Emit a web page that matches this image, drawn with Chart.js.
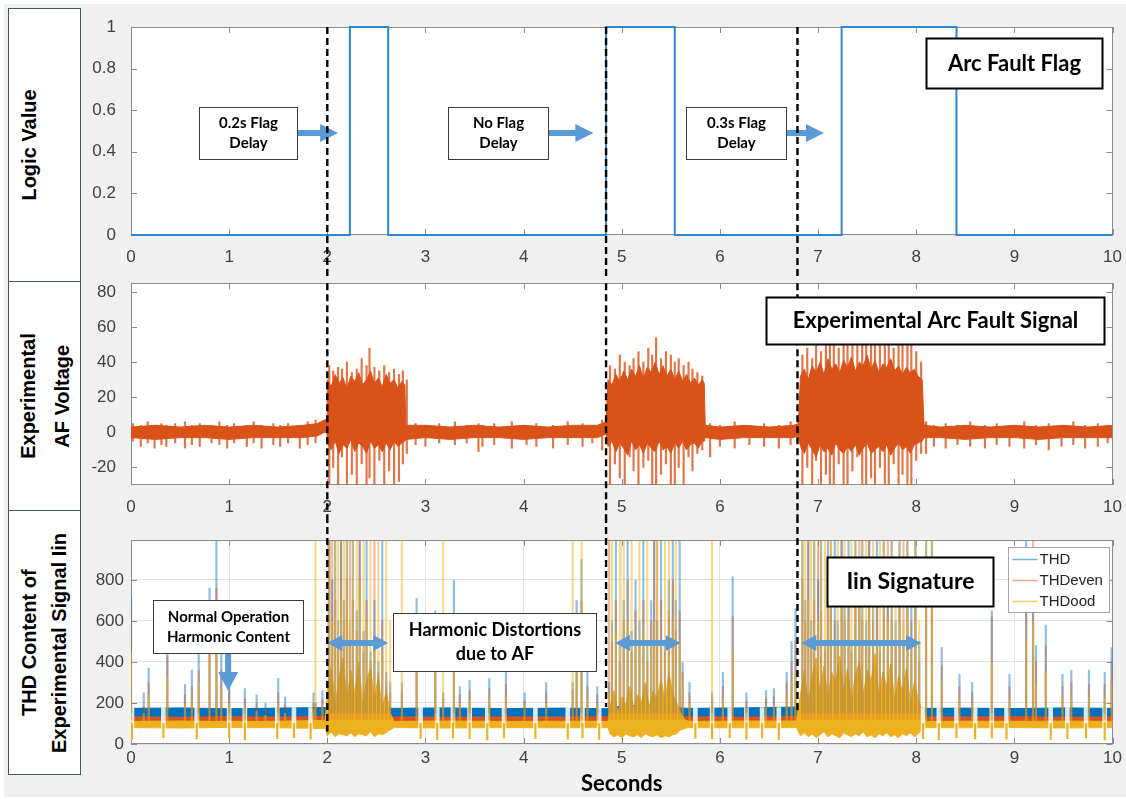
<!DOCTYPE html>
<html>
<head>
<meta charset="utf-8">
<title>Arc fault flag, AF voltage and THD of Iin</title>
<script src="https://cdn.jsdelivr.net/npm/chart.js@4.4.1/dist/chart.umd.min.js"></script>
<style>
  html, body { margin: 0; padding: 0; background: #fff; }
  body { position: relative; width: 1126px; height: 799px; overflow: hidden; }
  #sheet { position: absolute; left: 4px; top: 4px; right: 0; bottom: 2px; background: #f0f0f0; }
  .lab { position: absolute; left: 8px; width: 73px; box-sizing: border-box; border: 1px solid #44546a; background: #fff; }
  .lab div { position: absolute; top: 50%; writing-mode: vertical-rl; transform: translateY(-50%) rotate(180deg);
             font: bold 20px "Liberation Sans", Arial, sans-serif; text-align: center; color: #000; white-space: nowrap; }
  canvas { position: absolute; left: 81px; }
</style>
</head>
<body>
<div id="sheet"></div>
<div class="lab" style="top:8px;height:274px"><div style="left:7px;line-height:26px">Logic Value</div></div>
<div class="lab" style="top:281px;height:230px"><div style="left:2px;line-height:34px">Experimental<br>AF Voltage</div></div>
<div class="lab" style="top:510px;height:265px"><div style="left:5px;line-height:30px">THD Content of<br>Experimental Signal Iin</div></div>
<canvas id="flag" width="1045" height="268" style="top:8px"></canvas>
<canvas id="volt" width="1045" height="250" style="top:266px"></canvas>
<canvas id="thd" width="1045" height="281" style="top:516px"></canvas>
<script>
// tick labels
const secondTicks = [0, 1, 2, 3, 4, 5, 6, 7, 8, 9, 10];
const flagTicks = [0, 0.2, 0.4, 0.6, 0.8, 1];
const voltTicks = [-20, 0, 20, 40, 60, 80];
const thdTicks = [0, 200, 400, 600, 800];

// arc fault flag (logic value), step changes
const flagTime  = [0, 2.23, 2.62, 4.84, 5.54, 7.24, 8.41, 10];
const flagValue = [0, 1, 0, 1, 0, 1, 0, 0];

// arc fault onsets (dashed markers) and where the marker stops in the THD panel
const faultOnset = [2.0, 4.84, 6.79];
const onsetEnd = [60, 180, 165];

// AF voltage: dense core band
const voltBandTime = [0, 0.25, 0.5, 0.75, 1.0, 1.25, 1.5, 1.75, 1.9, 1.97,
  2.0, 2.0, 2.04, 2.08, 2.12, 2.16, 2.2, 2.24, 2.28, 2.32, 2.36, 2.4, 2.44, 2.48, 2.52, 2.56, 2.6, 2.64, 2.68, 2.72, 2.76, 2.79,
  2.8, 3.0, 3.25, 3.5, 3.75, 4.0, 4.25, 4.5, 4.75, 4.84,
  4.86, 4.9, 4.94, 4.98, 5.02, 5.06, 5.1, 5.14, 5.18, 5.22, 5.26, 5.3, 5.34, 5.38, 5.42, 5.46, 5.5, 5.54, 5.58, 5.62, 5.66, 5.7, 5.74, 5.78, 5.82, 5.84,
  5.85, 6.0, 6.25, 6.5, 6.75, 6.8,
  6.82, 6.86, 6.9, 6.94, 6.98, 7.02, 7.06, 7.1, 7.14, 7.18, 7.22, 7.26, 7.3, 7.34, 7.38, 7.42,
  7.46, 7.5, 7.54, 7.58, 7.62, 7.66, 7.7, 7.74, 7.78, 7.82, 7.86, 7.9, 7.94, 7.98, 8.02, 8.06,
  8.08, 8.25, 8.5, 8.75, 9.0, 9.25, 9.5, 9.75, 10];
const voltBandHigh = [3, 4, 3, 4, 3, 4, 3, 4, 5, 7,
  8, 30, 26, 33, 28, 31, 25, 32, 29, 34, 27, 30, 35, 28, 31, 26, 33, 28, 30, 25, 29, 27,
  4, 4, 3, 4, 3, 4, 3, 4, 4, 6,
  30, 27, 33, 29, 35, 30, 36, 32, 38, 31, 37, 34, 40, 33, 38, 32, 36, 30, 35, 29, 33, 28, 31, 27, 30, 28,
  4, 3, 4, 3, 4, 5,
  32, 36, 30, 38, 34, 40, 33, 42, 36, 39, 34, 41, 37, 43, 35, 40,
  38, 44, 36, 41, 34, 39, 37, 42, 35, 38, 33, 37, 34, 36, 32, 30,
  4, 3, 4, 3, 4, 3, 4, 3, 4];
const voltBandLow = [-3, -4, -3, -3, -4, -3, -3, -3, -2, 0,
  0, -6, -10, -5, -12, -7, -9, -4, -11, -6, -8, -12, -5, -9, -7, -11, -6, -10, -5, -8, -6, -5,
  -4, -3, -4, -3, -3, -4, -3, -3, -3, -1,
  -8, -5, -11, -6, -9, -13, -5, -10, -7, -12, -6, -9, -11, -5, -10, -8, -12, -6, -9, -5, -10, -7, -6, -9, -5, -5,
  -3, -4, -3, -3, -3, -2,
  -8, -12, -6, -10, -14, -7, -11, -9, -13, -6, -10, -12, -8, -11, -7, -13,
  -9, -6, -12, -10, -8, -11, -7, -13, -9, -6, -10, -8, -12, -7, -6, -5,
  -3, -3, -4, -3, -3, -4, -3, -3, -3];

// AF voltage: individual excursions beyond the core band
const voltSpikeTime = [0.02, 0.1, 0.17, 0.24, 0.31, 0.36, 0.45, 0.55, 0.62, 0.7, 0.82, 0.9, 0.98, 1.05, 1.18, 1.25, 1.33, 1.45, 1.52, 1.6, 1.72, 1.8, 1.88,
  2.02, 2.06, 2.11, 2.15, 2.2, 2.25, 2.3, 2.35, 2.4, 2.43, 2.48, 2.53, 2.58, 2.63, 2.68, 2.73, 2.77, 2.81,
  2.9, 3.0, 3.14, 3.3, 3.42, 3.54, 3.58, 3.7, 3.88, 4.03, 4.13, 4.3, 4.45, 4.6, 4.7, 4.8,
  4.88, 4.93, 4.98, 5.03, 5.08, 5.12, 5.17, 5.22, 5.27, 5.31, 5.35, 5.4, 5.45, 5.5, 5.54, 5.58, 5.63, 5.68, 5.72, 5.77, 5.82,
  5.9, 6.0, 6.15, 6.3, 6.45, 6.6, 6.72,
  6.84, 6.89, 6.94, 6.98, 7.03, 7.08, 7.12, 7.16, 7.21, 7.26, 7.3, 7.35, 7.4, 7.45, 7.49, 7.54, 7.58, 7.63, 7.68, 7.72, 7.77, 7.82, 7.86, 7.91, 7.95, 8.0, 8.05,
  8.1, 8.18, 8.3, 8.42, 8.55, 8.7, 8.82, 8.95, 9.1, 9.22, 9.35, 9.48, 9.6, 9.72, 9.85, 9.95];
const voltSpikeLow = [-5, -8, -6, -9, -7, -8, -6, -9, -7, -8, -6, -7, -9, -6, -8, -6, -9, -7, -8, -6, -9, -7, -6,
  -31, -20, -31, -14, -31, -24, -31, -18, -31, -26, -31, -16, -31, -22, -31, -28, -18, -12,
  -7, -8, -6, -7, -6, -11, -8, -7, -9, -7, -8, -9, -7, -8, -6, -10,
  -31, -18, -26, -31, -14, -22, -31, -20, -16, -31, -31, -24, -18, -31, -31, -20, -31, -14, -22, -12, -10,
  -14, -8, -9, -7, -8, -9, -7,
  -31, -20, -31, -16, -31, -24, -31, -31, -18, -31, -31, -22, -14, -31, -31, -26, -31, -20, -31, -31, -18, -31, -24, -31, -31, -16, -12,
  -12, -8, -9, -7, -8, -9, -7, -8, -9, -7, -10, -8, -7, -9, -8, -6];
const voltSpikeHigh = [5, 4, 6, 4, 5, 4, 5, 6, 4, 5, 4, 6, 4, 5, 4, 6, 4, 5, 4, 5, 4, 6, 7,
  38, 35, 37, 36, 40, 34, 36, 42, 38, 48, 37, 35, 38, 34, 36, 33, 35, 30,
  5, 4, 5, 6, 4, 5, 4, 5, 6, 4, 5, 4, 6, 5, 4, 7,
  38, 36, 44, 40, 38, 42, 46, 40, 48, 44, 54, 42, 46, 44, 40, 42, 38, 40, 36, 34, 32,
  5, 4, 6, 4, 5, 4, 6,
  44, 48, 42, 50, 46, 60, 70, 52, 48, 58, 72, 50, 54, 62, 74, 52, 56, 70, 50, 58, 48, 52, 60, 72, 50, 46, 40,
  6, 4, 5, 4, 6, 4, 5, 4, 6, 4, 5, 4, 6, 4, 5, 4];

// THD of Iin: dense bands of THD and THDeven
const thdBandTime = [0, 0.5, 1, 1.5, 1.98, 2.02, 2.15, 2.3, 2.45, 2.6, 2.66, 3.2, 3.8, 4.4, 4.86, 4.9, 5.05, 5.2,
  5.35, 5.5, 5.62, 5.68, 6.2, 6.78, 6.84, 7.0, 7.2, 7.4, 7.6, 7.8, 8.0, 8.08, 8.5, 9, 9.5, 10];
const thdHigh  = [174, 176, 172, 175, 178, 190, 185, 195, 185, 180, 174, 176, 173, 175, 172, 180, 185, 190,
  195, 185, 175, 174, 176, 180, 195, 190, 195, 190, 195, 190, 185, 174, 175, 173, 176, 174];
const thdLow   = [134, 132, 135, 133, 130, 110, 115, 110, 115, 120, 134, 132, 134, 133, 134, 120, 115, 110,
  112, 115, 130, 134, 132, 133, 110, 112, 110, 115, 110, 112, 115, 134, 133, 134, 132, 134];
const evenHigh = [132, 130, 133, 131, 134, 160, 170, 150, 165, 140, 132, 130, 132, 131, 133, 140, 150, 160,
  170, 160, 135, 132, 131, 133, 170, 160, 170, 165, 170, 160, 150, 132, 131, 133, 130, 132];
const evenLow  = [112, 110, 113, 111, 110, 70, 75, 70, 75, 80, 112, 110, 112, 111, 112, 80, 75, 70,
  72, 75, 105, 112, 111, 112, 70, 72, 70, 75, 70, 72, 75, 112, 111, 113, 110, 112];

// THD of Iin: dense band of THDood (ragged during the faults)
const oddTime = [0, 0.5, 1, 1.5, 1.98,
  2.0, 2.04, 2.08, 2.12, 2.16, 2.2, 2.24, 2.28, 2.32, 2.36, 2.4, 2.44, 2.48, 2.52, 2.56, 2.6, 2.64,
  2.68, 3.2, 3.8, 4.4, 4.86,
  4.88, 4.92, 4.96, 5.0, 5.04, 5.08, 5.12, 5.16, 5.2, 5.24, 5.28, 5.32, 5.36, 5.4, 5.44, 5.48, 5.52, 5.56, 5.6,
  5.64, 5.68, 6.2, 6.78,
  6.82, 6.86, 6.9, 6.94, 6.98, 7.02, 7.06, 7.1, 7.14, 7.18, 7.22, 7.26, 7.3, 7.34, 7.38, 7.42,
  7.46, 7.5, 7.54, 7.58, 7.62, 7.66, 7.7, 7.74, 7.78, 7.82, 7.86, 7.9, 7.94, 7.98, 8.02, 8.06,
  8.1, 8.5, 9, 9.5, 10];
const oddHigh = [110, 112, 109, 111, 115,
  260, 380, 180, 330, 420, 210, 360, 250, 400, 190, 310, 370, 220, 330, 170, 260, 150,
  110, 112, 110, 111, 110,
  180, 260, 150, 230, 190, 280, 170, 240, 200, 300, 180, 260, 220, 320, 200, 350, 240, 200, 150,
  120, 110, 112, 112,
  240, 360, 200, 330, 420, 250, 380, 220, 350, 300, 430, 260, 370, 210, 340, 400,
  240, 360, 310, 440, 230, 350, 280, 390, 210, 330, 260, 370, 200, 300, 220, 160,
  110, 111, 110, 112, 110];
const oddLow = [80, 78, 81, 79, 76,
  40, 60, 35, 50, 45, 40, 55, 35, 50, 45, 40, 60, 35, 50, 45, 55, 70,
  80, 78, 80, 79, 80,
  50, 35, 45, 30, 50, 40, 35, 45, 30, 50, 40, 35, 45, 30, 40, 35, 45, 50, 70,
  75, 80, 79, 80,
  40, 55, 35, 50, 30, 45, 60, 35, 50, 40, 30, 55, 45, 35, 50, 40,
  60, 35, 45, 30, 50, 40, 55, 35, 45, 30, 50, 40, 55, 35, 50, 70,
  80, 79, 80, 78, 80];

// THD of Iin: periodic dips of the signal
const dipTime = [0.01, 0.33, 0.67, 1.0, 1.16, 1.49, 1.66, 1.83,
  2.95, 3.12, 3.28, 3.45, 3.63, 3.8, 4.12, 4.45, 4.6, 4.77,
  5.75, 5.92, 6.1, 6.27, 6.43, 6.6,
  8.07, 8.23, 8.41, 8.6, 8.77, 8.92, 9.37, 9.54, 9.73, 9.92];
const dipLow = [22, 30, 25, 28, 20, 26, 30, 24,
  27, 22, 30, 25, 20, 28, 26, 24, 30, 22,
  27, 25, 30, 24, 28, 22,
  26, 20, 30, 25, 28, 24, 22, 26, 30, 20];

// THD of Iin: peaks of the three series
const peakTime = [0.0, 0.13, 0.18, 0.37, 0.55, 0.62, 0.69, 0.8, 0.87, 0.92, 1.0, 1.16, 1.28, 1.37, 1.5, 1.57, 1.86, 1.88, 1.95,
  2.02, 2.05, 2.08, 2.11, 2.14, 2.17, 2.2, 2.23, 2.26, 2.3, 2.33, 2.37, 2.4, 2.44, 2.48, 2.52, 2.56, 2.6, 2.64,
  2.76, 2.91, 3.1, 3.18, 3.29, 3.35, 3.45, 3.65, 3.82, 4.01, 4.23, 4.5, 4.54, 4.59, 4.65, 4.75,
  4.87, 4.9, 4.94, 4.98, 5.02, 5.06, 5.1, 5.14, 5.18, 5.22, 5.26, 5.3, 5.33, 5.36, 5.4, 5.44, 5.48, 5.52, 5.55, 5.59, 5.62,
  5.69, 5.92, 6.03, 6.13, 6.27, 6.47, 6.55, 6.68, 6.73, 6.77,
  6.84, 6.87, 6.9, 6.93, 6.96, 7.0, 7.03, 7.07, 7.1, 7.13, 7.17, 7.2, 7.24, 7.27, 7.31, 7.34, 7.38, 7.42, 7.45, 7.49,
  7.52, 7.56, 7.6, 7.63, 7.67, 7.71, 7.75, 7.79, 7.83, 7.87, 7.91, 7.95, 7.99, 8.03,
  8.1, 8.16, 8.26, 8.44, 8.57, 8.77, 8.95, 9.12, 9.19, 9.22, 9.32, 9.49, 9.58, 9.76, 9.92, 9.99];
const thdPeak = [720, 250, 370, 560, 290, 360, 450, 760, 990, 460, 300, 270, 240, 200, 320, 230, 250, 200, 260,
  990, 800, 990, 600, 990, 700, 990, 500, 990, 650, 990, 550, 990, 450, 700, 400, 990, 350, 300,
  300, 710, 650, 250, 800, 280, 310, 320, 360, 250, 300, 300, 700, 900, 350, 280,
  300, 600, 990, 500, 700, 990, 550, 800, 600, 990, 500, 700, 990, 600, 990, 500, 800, 990, 700, 990, 400,
  300, 250, 350, 815, 250, 260, 270, 350, 500, 660,
  990, 700, 990, 600, 990, 800, 990, 500, 990, 700, 990, 600, 990, 700, 990, 500, 990, 800, 990, 600,
  990, 700, 990, 500, 990, 800, 990, 600, 990, 500, 990, 700, 990, 500,
  990, 990, 470, 340, 300, 650, 340, 990, 800, 480, 580, 340, 360, 360, 350, 470];
const evenPeak = [640, 180, 300, 430, 240, 280, 360, 560, 760, 360, 260, 220, 200, 170, 250, 190, 200, 200, 220,
  990, 990, 700, 500, 990, 600, 800, 990, 700, 550, 990, 450, 700, 400, 990, 350, 600, 300, 250,
  250, 540, 500, 220, 600, 240, 260, 270, 290, 210, 250, 260, 540, 700, 280, 240,
  990, 500, 700, 400, 600, 800, 450, 650, 500, 700, 400, 600, 990, 990, 700, 450, 650, 800, 550, 650, 350,
  250, 220, 280, 620, 210, 220, 230, 300, 400, 500,
  800, 600, 990, 500, 700, 990, 650, 450, 800, 990, 600, 500, 990, 600, 700, 450, 800, 990, 600, 500,
  990, 600, 800, 450, 700, 990, 600, 500, 800, 990, 700, 600, 800, 400,
  700, 700, 380, 280, 250, 620, 280, 700, 990, 400, 480, 280, 300, 290, 290, 400];
const oddPeak = [450, 150, 240, 330, 190, 220, 300, 430, 560, 270, 200, 180, 160, 140, 200, 150, 170, 990, 180,
  990, 600, 990, 990, 700, 990, 990, 600, 990, 990, 800, 990, 600, 990, 500, 990, 450, 990, 600,
  990, 400, 380, 990, 420, 200, 210, 220, 230, 180, 200, 990, 400, 990, 220, 190,
  250, 990, 550, 990, 990, 600, 990, 500, 990, 550, 990, 500, 600, 990, 500, 990, 990, 600, 990, 500, 300,
  200, 990, 220, 450, 170, 180, 190, 240, 300, 350,
  990, 990, 700, 990, 990, 600, 990, 990, 700, 990, 500, 990, 800, 990, 600, 990, 990, 700, 990, 990,
  700, 990, 500, 990, 990, 600, 990, 700, 990, 600, 990, 500, 990, 600,
  990, 990, 300, 220, 200, 400, 220, 500, 600, 300, 350, 220, 240, 230, 230, 300];

const BLUE = '#0072BD', ORANGE = '#D95319', YELLOW = '#EDB120', ARROW = '#5B9BD5';
const tickFont = {family: '"Liberation Sans", Arial, sans-serif', size: 17};
const noteFont = 'Lato, "Open Sans", sans-serif';

const pts = (xs, ys) => xs.map((x, i) => ({x: x, y: ys[i]}));
const range = (xs, lo, hi) => xs.map((x, i) => ({x: x, y: [lo[i], hi[i]]}));

function band(t, hi, lo, color, order) {
  return [
    {data: pts(t, hi), borderColor: color, borderWidth: 1, pointRadius: 0, fill: false, order: order},
    {data: pts(t, lo), borderColor: color, borderWidth: 1, pointRadius: 0, fill: '-1', backgroundColor: color, order: order}
  ];
}

// white plot area
const plotBg = {
  id: 'plotBg',
  beforeDraw(chart) {
    const a = chart.chartArea, ctx = chart.ctx;
    ctx.save();
    ctx.fillStyle = '#fff';
    ctx.fillRect(a.left, a.top, a.width, a.height);
    ctx.restore();
  }
};

// box around the axes with inward tick marks on all four sides
const frame = {
  id: 'frame',
  beforeDatasetsDraw(chart) {
    const {ctx, chartArea: a, scales: {x, y}} = chart;
    ctx.save();
    ctx.strokeStyle = '#8c8c8c';
    ctx.lineWidth = 1;
    ctx.beginPath();
    x.ticks.forEach(t => {
      const p = Math.round(x.getPixelForValue(t.value)) + 0.5;
      ctx.moveTo(p, a.bottom); ctx.lineTo(p, a.bottom - 6);
      ctx.moveTo(p, a.top); ctx.lineTo(p, a.top + 6);
    });
    y.ticks.forEach(t => {
      const p = Math.round(y.getPixelForValue(t.value)) + 0.5;
      ctx.moveTo(a.left, p); ctx.lineTo(a.left + 6, p);
      ctx.moveTo(a.right, p); ctx.lineTo(a.right - 6, p);
    });
    ctx.stroke();
    ctx.strokeRect(Math.round(a.left) + 0.5, Math.round(a.top) + 0.5, Math.round(a.width) - 1, Math.round(a.height) - 1);
    ctx.restore();
  }
};

function drawArrow(ctx, x, y, r) {
  ctx.fillStyle = ARROW;
  ctx.beginPath();
  if (r.down) {
    const px = x.getPixelForValue(r.x), p0 = y.getPixelForValue(r.y0), p1 = y.getPixelForValue(r.y1);
    ctx.moveTo(px - 3, p0); ctx.lineTo(px + 3, p0); ctx.lineTo(px + 3, p1 - 19); ctx.lineTo(px + 10, p1 - 19);
    ctx.lineTo(px, p1); ctx.lineTo(px - 10, p1 - 19); ctx.lineTo(px - 3, p1 - 19);
  } else {
    const p0 = x.getPixelForValue(r.x0), p1 = x.getPixelForValue(r.x1), py = y.getPixelForValue(r.y);
    const head = r.both ? 15 : 18, half = r.both ? 8 : 9, s = 3;
    if (r.both) { ctx.moveTo(p0, py); ctx.lineTo(p0 + head, py - half); ctx.lineTo(p0 + head, py - s); }
    else ctx.moveTo(p0, py - s);
    ctx.lineTo(p1 - head, py - s); ctx.lineTo(p1 - head, py - half); ctx.lineTo(p1, py);
    ctx.lineTo(p1 - head, py + half); ctx.lineTo(p1 - head, py + s);
    if (r.both) { ctx.lineTo(p0 + head, py + s); ctx.lineTo(p0 + head, py + half); }
    else ctx.lineTo(p0, py + s);
  }
  ctx.closePath();
  ctx.fill();
}

function drawBox(ctx, x, y, b) {
  const l = Math.round(x.getPixelForValue(b.x0)) + 0.5, r = Math.round(x.getPixelForValue(b.x1)) + 0.5;
  const t = Math.round(y.getPixelForValue(b.y1)) + 0.5, bt = Math.round(y.getPixelForValue(b.y0)) + 0.5;
  ctx.fillStyle = '#fff';
  ctx.fillRect(l, t, r - l, bt - t);
  ctx.lineWidth = b.lw;
  ctx.strokeStyle = b.lw > 1 ? '#000' : '#3c3c3c';
  ctx.strokeRect(l, t, r - l, bt - t);
  ctx.fillStyle = '#000';
  ctx.font = 'bold ' + b.size + 'px ' + noteFont;
  ctx.textAlign = 'center';
  ctx.textBaseline = 'middle';
  const cx = (l + r) / 2, cy = (t + bt) / 2, n = b.text.length;
  b.text.forEach((s, i) => ctx.fillText(s, cx, cy + (i - (n - 1) / 2) * b.lh));
}

function drawLegend(ctx, a, items) {
  const w = 101, h = 65, l = Math.round(a.right) - 4 - w + 0.5, t = Math.round(a.top) + 7 + 0.5;
  ctx.fillStyle = '#fff';
  ctx.fillRect(l, t, w, h);
  ctx.strokeStyle = '#a6a6a6';
  ctx.lineWidth = 1;
  ctx.strokeRect(l, t, w, h);
  ctx.font = '15px "Liberation Sans", Arial, sans-serif';
  ctx.textAlign = 'left';
  ctx.textBaseline = 'middle';
  items.forEach((it, i) => {
    const yy = t + 12 + i * 21;
    ctx.strokeStyle = it.color;
    ctx.lineWidth = 1.5;
    ctx.beginPath(); ctx.moveTo(l + 4, yy); ctx.lineTo(l + 29, yy); ctx.stroke();
    ctx.fillStyle = '#262626';
    ctx.fillText(it.label, l + 31, yy);
  });
}

// annotations: arrows, dashed onset markers, text boxes, legend
const notes = {
  id: 'notes',
  afterDatasetsDraw(chart, args, o) {
    const {ctx, chartArea: a, scales: {x, y}} = chart;
    ctx.save();
    (o.arrows || []).forEach(r => drawArrow(ctx, x, y, r));
    ctx.setLineDash([7, 4]);
    ctx.lineWidth = 2.4;
    ctx.strokeStyle = '#000';
    faultOnset.forEach((t, i) => {
      const px = x.getPixelForValue(t);
      const top = o.fromArea ? a.top : 0;
      const bottom = o.endAt ? y.getPixelForValue(o.endAt[i]) : chart.height;
      ctx.beginPath(); ctx.moveTo(px, top); ctx.lineTo(px, bottom); ctx.stroke();
    });
    ctx.setLineDash([]);
    (o.boxes || []).forEach(b => drawBox(ctx, x, y, b));
    if (o.legend) drawLegend(ctx, a, o.legend);
    ctx.restore();
  }
};

function axes(o) {
  const grid = o.grid ? {color: '#e2e2e2', drawTicks: false, offset: false} : {display: false, offset: false};
  return {
    x: {
      type: 'linear', min: 0, max: 10, offset: false,
      grid: grid, border: {display: false},
      afterBuildTicks: s => { s.ticks = secondTicks.map(v => ({value: v})); },
      afterFit: s => { s.height = o.xh; },
      ticks: {padding: 4, color: '#404040', font: tickFont, maxRotation: 0, autoSkip: false, callback: v => String(v)},
      title: o.title
        ? {display: true, text: o.title, color: '#000', font: {family: noteFont, weight: 'bold', size: 22}, padding: {top: 0, bottom: 0}}
        : {display: false}
    },
    y: {
      type: 'linear', min: o.min, max: o.max,
      grid: grid, border: {display: false},
      afterBuildTicks: s => { s.ticks = o.ticks.map(v => ({value: v})); },
      afterFit: s => { s.width = 50; },
      ticks: {padding: 7, color: '#404040', font: tickFont, autoSkip: false, callback: v => String(v)}
    }
  };
}

function makeChart(id, datasets, scaleOpts, padTop, noteOpts) {
  return new Chart(document.getElementById(id), {
    type: 'line',
    data: {datasets: datasets},
    options: {
      responsive: false, animation: false, devicePixelRatio: 1, events: [],
      layout: {padding: {top: padTop, right: 13, left: 0, bottom: 0}},
      plugins: {legend: {display: false}, tooltip: {enabled: false}, notes: noteOpts},
      scales: axes(scaleOpts)
    },
    plugins: [plotBg, frame, notes]
  });
}

// top: arc fault flag
makeChart('flag', [
  {data: pts(flagTime, flagValue), stepped: 'before', borderColor: '#2f86d0', borderWidth: 2, pointRadius: 0, fill: false, clip: 4}
], {min: 0, max: 1, ticks: flagTicks, xh: 41}, 19, {
  fromArea: true,
  arrows: [{x0: 1.69, x1: 2.11, y: 0.49}, {x0: 4.25, x1: 4.71, y: 0.49}, {x0: 6.67, x1: 7.06, y: 0.49}],
  boxes: [
    {x0: 0.69, x1: 1.69, y0: 0.365, y1: 0.615, text: ['0.2s Flag', 'Delay'], size: 15, lh: 20, lw: 1},
    {x0: 3.23, x1: 4.25, y0: 0.365, y1: 0.615, text: ['No Flag', 'Delay'], size: 15, lh: 20, lw: 1},
    {x0: 5.65, x1: 6.67, y0: 0.365, y1: 0.615, text: ['0.3s Flag', 'Delay'], size: 15, lh: 20, lw: 1},
    {x0: 8.10, x1: 9.89, y0: 0.707, y1: 0.947, text: ['Arc Fault Flag'], size: 22, lh: 24, lw: 2}
  ]
});

// middle: experimental arc fault voltage
makeChart('volt', [
  ...band(voltBandTime, voltBandHigh, voltBandLow, ORANGE, 2),
  {type: 'bar', data: range(voltSpikeTime, voltSpikeLow, voltSpikeHigh), backgroundColor: 'rgba(217,83,25,0.8)',
   barThickness: 1.5, grouped: false, order: 1}
], {min: -30, max: 85, ticks: voltTicks, xh: 31}, 10, {
  fromArea: true,
  boxes: [{x0: 6.47, x1: 9.91, y0: 50.3, y1: 77.3, text: ['Experimental Arc Fault Signal'], size: 22, lh: 24, lw: 2}]
});

// bottom: THD content of Iin
makeChart('thd', [
  ...band(thdBandTime, thdHigh, thdLow, BLUE, 10),
  ...band(thdBandTime, evenHigh, evenLow, ORANGE, 9),
  ...band(oddTime, oddHigh, oddLow, YELLOW, 8),
  {type: 'bar', data: pts(dipTime, dipLow), base: 178, backgroundColor: 'rgba(255,255,255,0.85)', barThickness: 4, grouped: false, order: 7},
  {type: 'bar', data: pts(dipTime, dipLow), base: 100, backgroundColor: YELLOW, barThickness: 1.5, grouped: false, order: 6},
  {type: 'bar', data: pts(peakTime, thdPeak), base: 150, backgroundColor: 'rgba(0,114,189,0.45)', barThickness: 1.5, grouped: false, order: 5},
  {type: 'bar', data: pts(peakTime, evenPeak), base: 120, backgroundColor: 'rgba(217,83,25,0.4)', barThickness: 1.5, grouped: false, order: 4},
  {type: 'bar', data: pts(peakTime, oddPeak), base: 90, backgroundColor: 'rgba(237,177,32,0.5)', barThickness: 1.5, grouped: false, order: 3}
], {min: 0, max: 995, ticks: thdTicks, xh: 53, grid: true, title: 'Seconds'}, 24, {
  fromArea: false,
  endAt: onsetEnd,
  arrows: [
    {down: true, x: 0.99, y0: 444, y1: 259},
    {both: true, x0: 2.0, x1: 2.62, y: 493},
    {both: true, x0: 4.93, x1: 5.60, y: 493},
    {both: true, x0: 6.83, x1: 8.05, y: 493}
  ],
  boxes: [
    {x0: 0.22, x1: 1.75, y0: 444, y1: 702, text: ['Normal Operation', 'Harmonic Content'], size: 15, lh: 20, lw: 1},
    {x0: 2.67, x1: 4.74, y0: 356, y1: 639, text: ['Harmonic Distortions', 'due to AF'], size: 18, lh: 24, lw: 1},
    {x0: 7.09, x1: 8.78, y0: 673, y1: 912, text: ['Iin Signature'], size: 23, lh: 24, lw: 2}
  ],
  legend: [
    {label: 'THD', color: 'rgba(0,114,189,0.55)'},
    {label: 'THDeven', color: 'rgba(217,83,25,0.5)'},
    {label: 'THDood', color: 'rgba(237,177,32,0.7)'}
  ]
});
</script>
</body>
</html>
